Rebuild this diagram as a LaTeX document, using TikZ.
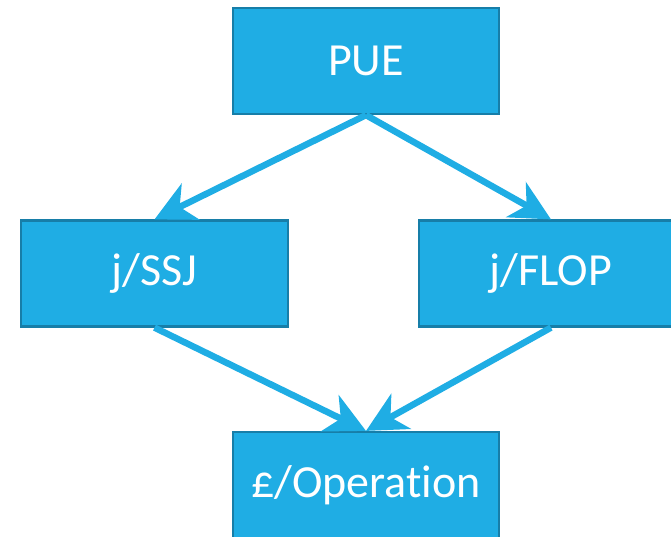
\documentclass[tikz,border=0pt]{standalone}
\usepackage{fontspec}
\setmainfont{Carlito}[Ligatures=NoCommon]
\usetikzlibrary{arrows.meta}
\definecolor{boxfill}{HTML}{1FADE4}
\definecolor{boxline}{HTML}{177EA8}
\begin{document}
\begin{tikzpicture}[x=1pt,y=1pt,
  box/.style={draw=boxline, line width=2.2pt, fill=boxfill, text=white, font=\fontsize{46}{52}\selectfont, inner sep=0pt, minimum height=106pt},
  conn/.style={draw=boxfill, line width=6.5pt, -{Stealth[length=40pt,width=40pt,inset=12pt]}}]
\useasboundingbox (0,0) rectangle (671,536);
\clip (0,0) rectangle (671,536);
\node[box, minimum width=266pt] (pue) at (366,475) {PUE};
\node[box, minimum width=267pt] (ssj) at (154.5,262.5) {j/SSJ};
\node[box, minimum width=264pt] (flop) at (551,262.5) {j/FLOP};
\node[box, minimum width=266pt] (op) at (366,51) {£/Operation};
\draw[conn] (pue.south) -- (ssj.north);
\draw[conn] (pue.south) -- (flop.north);
\draw[conn] (ssj.south) -- (op.north);
\draw[conn] (flop.south) -- (op.north);
\end{tikzpicture}
\end{document}
